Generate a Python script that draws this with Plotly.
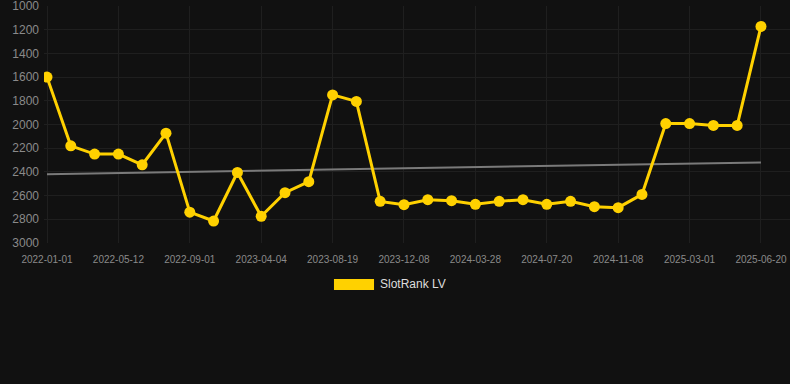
import plotly.graph_objects as go

# Data
ranks = [1600, 2180, 2250, 2250, 2340, 2073, 2740, 2815, 2405, 2775,
         2576, 2483, 1750, 1805, 2649, 2677, 2635, 2643, 2674, 2649,
         2635, 2674, 2649, 2694, 2702, 2590, 1992, 1992, 2008, 2008, 1172]
tick_labels = ["2022-01-01", "2022-05-12", "2022-09-01", "2023-04-04", "2023-08-19",
               "2023-12-08", "2024-03-28", "2024-07-20", "2024-11-08", "2025-03-01",
               "2025-06-20"]
trend_ends = [2420, 2320]
series_name = "SlotRank LV"

idx = list(range(len(ranks)))
tick_pos = idx[::3]

YELLOW = "#FFD100"
BG = "#111111"
GRID = "#1f1f1f"
TICK = "#8a8a8a"

fig = go.Figure()
fig.add_trace(go.Scatter(x=[idx[0], idx[-1]], y=trend_ends, mode="lines",
                         line=dict(color="#7a7a7a", width=2), hoverinfo="skip",
                         showlegend=False))
fig.add_trace(go.Scatter(x=idx, y=ranks, mode="lines+markers", name=series_name,
                         line=dict(color=YELLOW, width=3),
                         marker=dict(color=YELLOW, size=11),
                         showlegend=False))

# legend drawn manually: a wide colour bar plus label
fig.add_shape(type="rect", xref="paper", yref="paper",
              x0=0.3887, x1=0.4424, y0=-0.198, y1=-0.152,
              fillcolor=YELLOW, line=dict(width=0))
fig.add_annotation(xref="paper", yref="paper", x=0.4480, y=-0.175,
                   text=series_name, showarrow=False, xanchor="left", yanchor="middle",
                   font=dict(size=12, color="#dddddd"))

fig.update_layout(
    width=790, height=384,
    paper_bgcolor=BG, plot_bgcolor=BG,
    margin=dict(l=44, r=0, t=6, b=141),
    font=dict(family="Liberation Sans, Arial, sans-serif", color=TICK),
    showlegend=False,
    xaxis=dict(range=[-0.126, 31.22], tickmode="array", tickvals=tick_pos,
               ticktext=tick_labels, tickfont=dict(size=10, color=TICK),
               showgrid=True, gridcolor=GRID, gridwidth=1, zeroline=False,
               showline=False, ticks="", ticklabelstandoff=9,
               ticklabeloverflow="allow"),
    yaxis=dict(range=[3000.5, 999.5], tickmode="array",
               tickvals=list(range(1000, 3001, 200)),
               tickfont=dict(size=12, color=TICK),
               showgrid=True, gridcolor=GRID, gridwidth=1, zeroline=False,
               showline=False, ticks="", ticklabelstandoff=4,
               ticklabeloverflow="allow")
)

fig.write_html("out.html", config={"displayModeBar": False},
               post_script="document.body.style.margin='0';document.body.style.background='#111111';")
